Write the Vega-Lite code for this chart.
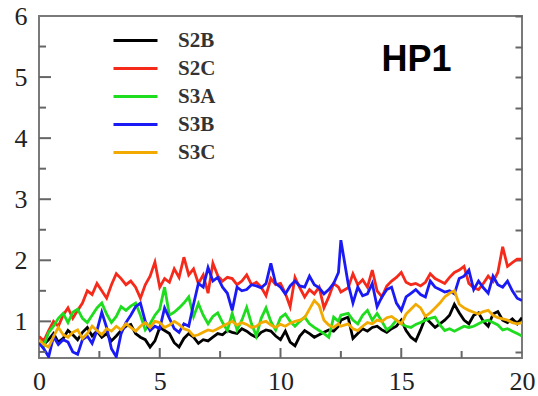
{
  "$schema": "https://vega.github.io/schema/vega-lite/v6.json",
  "width": 483,
  "height": 342,
  "autosize": {"type": "none"},
  "padding": {"left": 39, "top": 16, "right": 16, "bottom": 38},
  "background": "white",
  "config": {
    "view": {"stroke": "#7a7a7a", "strokeWidth": 2},
    "axis": {
      "domain": false,
      "grid": false,
      "tickColor": "#666666",
      "tickWidth": 2,
      "labelFont": "Liberation Serif",
      "labelFontSize": 26,
      "labelColor": "#222222",
      "labelFlush": false,
      "title": null
    }
  },
  "datasets": {
    "ytmaj": [{"v": 1}, {"v": 2}, {"v": 3}, {"v": 4}, {"v": 5}],
    "ytmin": [{"v": 0.5}, {"v": 1.5}, {"v": 2.5}, {"v": 3.5}, {"v": 4.5}, {"v": 5.5}],
    "xtmaj": [{"v": 5}, {"v": 10}, {"v": 15}],
    "xtmin": [{"v": 2.5}, {"v": 7.5}, {"v": 12.5}, {"v": 17.5}]
  },
  "layer": [
    {
      "data": {
        "values": [
          {"t": 0.0, "S2B": 0.75, "S2C": 0.75, "S3A": 0.69, "S3B": 0.65, "S3C": 0.70},
          {"t": 0.2, "S2B": 0.62, "S2C": 0.68, "S3A": 0.60, "S3B": 0.55, "S3C": 0.62},
          {"t": 0.4, "S2B": 0.70, "S2C": 0.85, "S3A": 0.82, "S3B": 0.42, "S3C": 0.58},
          {"t": 0.6, "S2B": 0.80, "S2C": 1.00, "S3A": 0.92, "S3B": 0.75, "S3C": 0.75},
          {"t": 0.8, "S2B": 0.66, "S2C": 0.92, "S3A": 1.05, "S3B": 0.62, "S3C": 0.90},
          {"t": 1.0, "S2B": 0.72, "S2C": 1.10, "S3A": 1.13, "S3B": 0.70, "S3C": 0.78},
          {"t": 1.2, "S2B": 0.85, "S2C": 1.22, "S3A": 0.98, "S3B": 0.66, "S3C": 0.74},
          {"t": 1.4, "S2B": 0.78, "S2C": 1.05, "S3A": 1.15, "S3B": 0.50, "S3C": 0.82},
          {"t": 1.6, "S2B": 0.70, "S2C": 1.18, "S3A": 1.20, "S3B": 0.46, "S3C": 0.86},
          {"t": 1.8, "S2B": 0.82, "S2C": 1.30, "S3A": 1.05, "S3B": 0.70, "S3C": 0.72},
          {"t": 2.0, "S2B": 0.90, "S2C": 1.50, "S3A": 0.98, "S3B": 0.76, "S3C": 0.80},
          {"t": 2.2, "S2B": 0.76, "S2C": 1.44, "S3A": 1.10, "S3B": 0.64, "S3C": 0.92},
          {"t": 2.4, "S2B": 0.84, "S2C": 1.62, "S3A": 1.22, "S3B": 0.85, "S3C": 0.85},
          {"t": 2.6, "S2B": 0.74, "S2C": 1.50, "S3A": 1.30, "S3B": 1.15, "S3C": 0.78},
          {"t": 2.8, "S2B": 0.80, "S2C": 1.38, "S3A": 1.12, "S3B": 0.90, "S3C": 0.88},
          {"t": 3.0, "S2B": 0.68, "S2C": 1.60, "S3A": 0.98, "S3B": 0.55, "S3C": 0.84},
          {"t": 3.2, "S2B": 0.76, "S2C": 1.78, "S3A": 1.08, "S3B": 0.42, "S3C": 0.92},
          {"t": 3.4, "S2B": 0.85, "S2C": 1.70, "S3A": 1.24, "S3B": 0.80, "S3C": 0.86},
          {"t": 3.6, "S2B": 0.92, "S2C": 1.60, "S3A": 1.18, "S3B": 0.98, "S3C": 0.96},
          {"t": 3.8, "S2B": 0.95, "S2C": 1.66, "S3A": 1.25, "S3B": 1.10, "S3C": 0.90},
          {"t": 4.0, "S2B": 0.80, "S2C": 1.56, "S3A": 1.30, "S3B": 1.24, "S3C": 0.84},
          {"t": 4.2, "S2B": 0.74, "S2C": 1.38, "S3A": 1.10, "S3B": 1.30, "S3C": 0.92},
          {"t": 4.4, "S2B": 0.70, "S2C": 1.60, "S3A": 0.86, "S3B": 1.00, "S3C": 0.98},
          {"t": 4.6, "S2B": 0.58, "S2C": 1.74, "S3A": 0.96, "S3B": 0.85, "S3C": 0.90},
          {"t": 4.8, "S2B": 0.68, "S2C": 1.97, "S3A": 1.10, "S3B": 0.92, "S3C": 1.00},
          {"t": 5.0, "S2B": 0.90, "S2C": 1.56, "S3A": 1.20, "S3B": 0.88, "S3C": 0.98},
          {"t": 5.2, "S2B": 0.85, "S2C": 1.70, "S3A": 1.56, "S3B": 1.22, "S3C": 0.90},
          {"t": 5.4, "S2B": 0.80, "S2C": 1.64, "S3A": 1.10, "S3B": 1.05, "S3C": 0.94},
          {"t": 5.6, "S2B": 0.65, "S2C": 1.86, "S3A": 1.15, "S3B": 0.88, "S3C": 1.00},
          {"t": 5.8, "S2B": 0.58, "S2C": 1.72, "S3A": 1.22, "S3B": 0.82, "S3C": 0.95},
          {"t": 6.0, "S2B": 0.72, "S2C": 2.05, "S3A": 1.30, "S3B": 0.96, "S3C": 0.88},
          {"t": 6.2, "S2B": 0.80, "S2C": 1.76, "S3A": 1.40, "S3B": 0.92, "S3C": 0.85},
          {"t": 6.4, "S2B": 0.74, "S2C": 1.86, "S3A": 1.08, "S3B": 1.28, "S3C": 0.76},
          {"t": 6.6, "S2B": 0.64, "S2C": 1.62, "S3A": 1.29, "S3B": 1.62, "S3C": 0.78},
          {"t": 6.8, "S2B": 0.70, "S2C": 1.76, "S3A": 1.10, "S3B": 1.56, "S3C": 0.82},
          {"t": 7.0, "S2B": 0.68, "S2C": 1.46, "S3A": 0.96, "S3B": 1.88, "S3C": 0.86},
          {"t": 7.2, "S2B": 0.74, "S2C": 1.95, "S3A": 1.08, "S3B": 1.66, "S3C": 0.84},
          {"t": 7.4, "S2B": 0.80, "S2C": 1.75, "S3A": 1.14, "S3B": 1.72, "S3C": 0.88},
          {"t": 7.6, "S2B": 0.78, "S2C": 1.66, "S3A": 0.98, "S3B": 1.56, "S3C": 0.92},
          {"t": 7.8, "S2B": 0.85, "S2C": 1.72, "S3A": 0.85, "S3B": 1.46, "S3C": 0.96},
          {"t": 8.0, "S2B": 0.82, "S2C": 1.70, "S3A": 1.13, "S3B": 1.18, "S3C": 1.00},
          {"t": 8.2, "S2B": 0.80, "S2C": 1.60, "S3A": 0.86, "S3B": 1.56, "S3C": 0.94},
          {"t": 8.4, "S2B": 0.88, "S2C": 1.66, "S3A": 1.02, "S3B": 1.50, "S3C": 0.98},
          {"t": 8.6, "S2B": 0.84, "S2C": 1.76, "S3A": 1.23, "S3B": 1.52, "S3C": 0.95},
          {"t": 8.8, "S2B": 0.78, "S2C": 1.60, "S3A": 0.96, "S3B": 1.60, "S3C": 0.90},
          {"t": 9.0, "S2B": 0.74, "S2C": 1.64, "S3A": 0.76, "S3B": 1.58, "S3C": 0.92},
          {"t": 9.2, "S2B": 0.82, "S2C": 1.56, "S3A": 1.05, "S3B": 1.55, "S3C": 0.98},
          {"t": 9.4, "S2B": 0.86, "S2C": 1.42, "S3A": 1.22, "S3B": 1.62, "S3C": 1.00},
          {"t": 9.6, "S2B": 0.84, "S2C": 1.70, "S3A": 1.00, "S3B": 1.95, "S3C": 0.94},
          {"t": 9.8, "S2B": 0.76, "S2C": 1.60, "S3A": 0.86, "S3B": 1.62, "S3C": 0.90},
          {"t": 10.0, "S2B": 0.70, "S2C": 1.62, "S3A": 1.06, "S3B": 1.56, "S3C": 0.95},
          {"t": 10.2, "S2B": 0.84, "S2C": 1.46, "S3A": 1.12, "S3B": 1.45, "S3C": 0.92},
          {"t": 10.4, "S2B": 0.66, "S2C": 1.24, "S3A": 1.00, "S3B": 1.58, "S3C": 0.97},
          {"t": 10.6, "S2B": 0.60, "S2C": 1.72, "S3A": 0.92, "S3B": 1.66, "S3C": 1.00},
          {"t": 10.8, "S2B": 0.76, "S2C": 1.55, "S3A": 1.00, "S3B": 1.58, "S3C": 1.02},
          {"t": 11.0, "S2B": 0.85, "S2C": 1.40, "S3A": 1.07, "S3B": 1.56, "S3C": 1.06},
          {"t": 11.2, "S2B": 0.80, "S2C": 1.52, "S3A": 0.96, "S3B": 1.74, "S3C": 1.20},
          {"t": 11.4, "S2B": 0.74, "S2C": 1.45, "S3A": 0.90, "S3B": 1.60, "S3C": 1.34},
          {"t": 11.6, "S2B": 0.78, "S2C": 1.56, "S3A": 0.85, "S3B": 1.55, "S3C": 1.26},
          {"t": 11.8, "S2B": 0.82, "S2C": 1.22, "S3A": 0.80, "S3B": 1.45, "S3C": 1.02},
          {"t": 12.0, "S2B": 0.86, "S2C": 1.40, "S3A": 0.74, "S3B": 1.52, "S3C": 0.94},
          {"t": 12.2, "S2B": 0.84, "S2C": 1.62, "S3A": 1.07, "S3B": 1.62, "S3C": 0.90},
          {"t": 12.4, "S2B": 0.92, "S2C": 1.56, "S3A": 1.00, "S3B": 1.80, "S3C": 0.96},
          {"t": 12.5, "S2B": 1.02, "S2C": 1.48, "S3A": 1.10, "S3B": 2.33, "S3C": 0.92},
          {"t": 12.8, "S2B": 1.07, "S2C": 1.55, "S3A": 1.13, "S3B": 1.62, "S3C": 0.96},
          {"t": 13.0, "S2B": 0.72, "S2C": 1.78, "S3A": 1.02, "S3B": 1.30, "S3C": 0.88},
          {"t": 13.2, "S2B": 0.80, "S2C": 1.60, "S3A": 0.96, "S3B": 1.56, "S3C": 0.85},
          {"t": 13.4, "S2B": 0.88, "S2C": 1.68, "S3A": 1.10, "S3B": 1.42, "S3C": 0.92},
          {"t": 13.6, "S2B": 0.84, "S2C": 1.56, "S3A": 1.18, "S3B": 1.45, "S3C": 0.98},
          {"t": 13.8, "S2B": 0.90, "S2C": 1.84, "S3A": 1.02, "S3B": 1.62, "S3C": 0.96},
          {"t": 14.0, "S2B": 0.92, "S2C": 1.50, "S3A": 1.13, "S3B": 1.24, "S3C": 1.02},
          {"t": 14.2, "S2B": 0.86, "S2C": 1.40, "S3A": 1.00, "S3B": 1.40, "S3C": 1.00},
          {"t": 14.4, "S2B": 0.82, "S2C": 1.58, "S3A": 0.86, "S3B": 1.52, "S3C": 1.06},
          {"t": 14.6, "S2B": 0.88, "S2C": 1.66, "S3A": 0.92, "S3B": 1.56, "S3C": 1.08},
          {"t": 14.8, "S2B": 0.92, "S2C": 1.72, "S3A": 1.02, "S3B": 1.30, "S3C": 1.02},
          {"t": 15.0, "S2B": 1.02, "S2C": 1.80, "S3A": 0.96, "S3B": 1.18, "S3C": 0.96},
          {"t": 15.2, "S2B": 0.85, "S2C": 1.64, "S3A": 0.92, "S3B": 1.40, "S3C": 1.12},
          {"t": 15.4, "S2B": 0.74, "S2C": 1.60, "S3A": 0.90, "S3B": 1.46, "S3C": 1.20},
          {"t": 15.6, "S2B": 0.68, "S2C": 1.62, "S3A": 0.95, "S3B": 1.52, "S3C": 1.28},
          {"t": 15.8, "S2B": 0.86, "S2C": 1.58, "S3A": 0.98, "S3B": 1.44, "S3C": 1.22},
          {"t": 16.0, "S2B": 1.06, "S2C": 1.64, "S3A": 1.02, "S3B": 1.40, "S3C": 1.08},
          {"t": 16.2, "S2B": 0.98, "S2C": 1.78, "S3A": 1.05, "S3B": 1.66, "S3C": 1.14},
          {"t": 16.4, "S2B": 0.90, "S2C": 1.70, "S3A": 1.07, "S3B": 1.56, "S3C": 1.22},
          {"t": 16.6, "S2B": 0.96, "S2C": 1.66, "S3A": 0.94, "S3B": 1.52, "S3C": 1.30},
          {"t": 16.8, "S2B": 1.02, "S2C": 1.62, "S3A": 0.85, "S3B": 1.48, "S3C": 1.40},
          {"t": 17.0, "S2B": 1.10, "S2C": 1.72, "S3A": 0.88, "S3B": 1.50, "S3C": 1.46},
          {"t": 17.2, "S2B": 1.28, "S2C": 1.80, "S3A": 0.84, "S3B": 1.45, "S3C": 1.50},
          {"t": 17.4, "S2B": 1.14, "S2C": 1.84, "S3A": 0.88, "S3B": 1.70, "S3C": 1.28},
          {"t": 17.6, "S2B": 1.02, "S2C": 1.90, "S3A": 0.92, "S3B": 1.74, "S3C": 1.22},
          {"t": 17.8, "S2B": 0.96, "S2C": 1.62, "S3A": 0.90, "S3B": 1.84, "S3C": 1.18},
          {"t": 18.0, "S2B": 1.10, "S2C": 1.55, "S3A": 0.92, "S3B": 1.52, "S3C": 1.15},
          {"t": 18.2, "S2B": 1.14, "S2C": 1.52, "S3A": 0.96, "S3B": 1.66, "S3C": 1.12},
          {"t": 18.4, "S2B": 1.00, "S2C": 1.62, "S3A": 1.00, "S3B": 1.55, "S3C": 1.16},
          {"t": 18.6, "S2B": 0.92, "S2C": 1.74, "S3A": 1.02, "S3B": 1.46, "S3C": 1.18},
          {"t": 18.8, "S2B": 1.12, "S2C": 1.65, "S3A": 0.98, "S3B": 1.74, "S3C": 1.10},
          {"t": 19.0, "S2B": 1.16, "S2C": 1.80, "S3A": 0.94, "S3B": 1.60, "S3C": 1.06},
          {"t": 19.2, "S2B": 1.02, "S2C": 2.22, "S3A": 0.86, "S3B": 1.56, "S3C": 1.04},
          {"t": 19.4, "S2B": 0.98, "S2C": 1.90, "S3A": 0.88, "S3B": 1.66, "S3C": 1.02},
          {"t": 19.6, "S2B": 1.04, "S2C": 1.96, "S3A": 0.84, "S3B": 1.50, "S3C": 0.98},
          {"t": 19.8, "S2B": 0.96, "S2C": 2.02, "S3A": 0.80, "S3B": 1.38, "S3C": 0.96},
          {"t": 20.0, "S2B": 1.06, "S2C": 2.02, "S3A": 0.76, "S3B": 1.34, "S3C": 0.98}
        ]
      },
      "transform": [{"fold": ["S2B", "S2C", "S3A", "S3B", "S3C"], "as": ["series", "v"]}],
      "mark": {"type": "line", "strokeWidth": 2.8, "clip": true},
      "encoding": {
        "x": {
          "field": "t", "type": "quantitative",
          "scale": {"domain": [0, 20], "nice": false, "zero": false},
          "axis": {
            "orient": "bottom",
            "values": [0, 5, 10, 15, 20],
            "format": "d",
            "ticks": false,
            "labelPadding": 10
          }
        },
        "y": {
          "field": "v", "type": "quantitative",
          "scale": {"domain": [0.4, 6], "nice": false, "zero": false},
          "axis": {
            "orient": "left",
            "values": [1, 2, 3, 4, 5, 6],
            "format": "d",
            "ticks": false,
            "labelPadding": 12
          }
        },
        "color": {
          "field": "series", "type": "nominal",
          "scale": {
            "domain": ["S2B", "S2C", "S3A", "S3B", "S3C"],
            "range": ["#000000", "#f52a1a", "#1edc1e", "#1a1af5", "#f2a900"]
          },
          "legend": {
            "orient": "none",
            "legendX": 86,
            "legendY": 14,
            "title": null,
            "symbolType": "M-4,0H4",
            "symbolSize": 121,
            "symbolStrokeWidth": 3,
            "labelFont": "Liberation Serif",
            "labelFontWeight": "bold",
            "labelFontSize": 21,
            "labelColor": "#333333",
            "labelOffset": 32,
            "rowPadding": 6
          }
        }
      }
    },
    {
      "data": {"values": [{"label": "HP1"}]},
      "mark": {"type": "text", "font": "Liberation Sans", "fontWeight": "bold", "fontSize": 36, "align": "center", "baseline": "alphabetic", "color": "#000000"},
      "encoding": {
        "text": {"field": "label"},
        "x": {"datum": 15.63, "type": "quantitative", "axis": null},
        "y": {
          "datum": 5.1, "type": "quantitative",
          "axis": {
            "orient": "right",
            "values": [0.5, 1, 1.5, 2, 2.5, 3, 3.5, 4, 4.5, 5, 5.5, 6],
            "labels": false,
            "offset": -7,
            "tickSize": 7
          }
        }
      }
    },
    {
      "data": {"name": "ytmaj"},
      "mark": {"type": "tick", "orient": "horizontal", "size": 12, "thickness": 2, "xOffset": 6, "color": "#666666", "opacity": 1},
      "encoding": {
        "x": {"datum": 0, "type": "quantitative", "axis": null},
        "y": {"field": "v", "type": "quantitative", "axis": null}
      }
    },
    {
      "data": {"name": "ytmin"},
      "mark": {"type": "tick", "orient": "horizontal", "size": 7, "thickness": 2, "xOffset": 3.5, "color": "#666666", "opacity": 1},
      "encoding": {
        "x": {"datum": 0, "type": "quantitative", "axis": null},
        "y": {"field": "v", "type": "quantitative", "axis": null}
      }
    },
    {
      "data": {"name": "xtmaj"},
      "mark": {"type": "tick", "orient": "vertical", "size": 10, "thickness": 2, "yOffset": -5, "color": "#666666", "opacity": 1},
      "encoding": {
        "x": {"field": "v", "type": "quantitative", "axis": null},
        "y": {"datum": 0.4, "type": "quantitative", "axis": null}
      }
    },
    {
      "data": {"name": "xtmin"},
      "mark": {"type": "tick", "orient": "vertical", "size": 7, "thickness": 2, "yOffset": -3.5, "color": "#666666", "opacity": 1},
      "encoding": {
        "x": {"field": "v", "type": "quantitative", "axis": null},
        "y": {"datum": 0.4, "type": "quantitative", "axis": null}
      }
    }
  ],
  "resolve": {"axis": {"x": "independent", "y": "independent"}}
}
